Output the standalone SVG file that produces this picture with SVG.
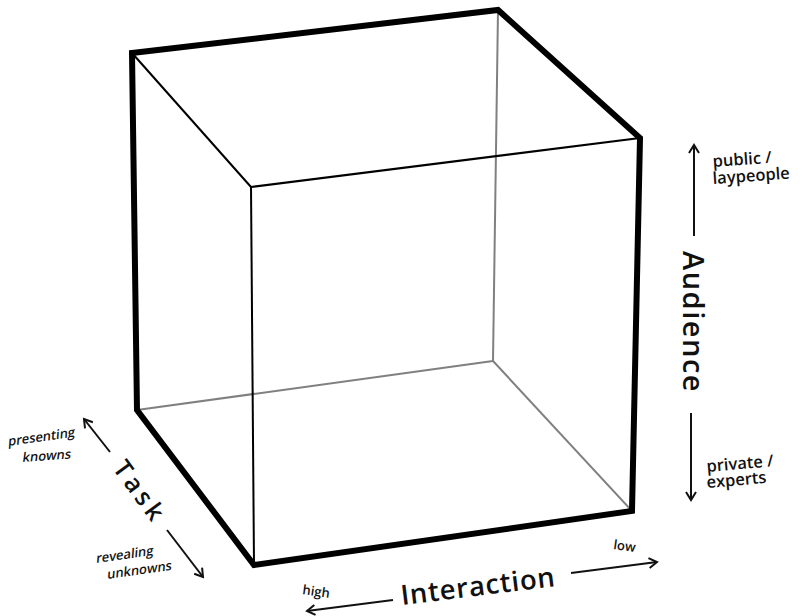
<svg xmlns="http://www.w3.org/2000/svg" width="807" height="616" viewBox="0 0 807 616">
<defs>
<marker id="ah" viewBox="0 0 12 12" refX="10" refY="6" markerWidth="12" markerHeight="12" markerUnits="userSpaceOnUse" orient="auto">
<polyline points="2,1 10,6 2,11" fill="none" stroke="#111" stroke-width="2" stroke-linejoin="miter"/>
</marker>
<style>
.thick{fill:none;stroke:#000;stroke-width:6;stroke-linejoin:miter}
.thin{fill:none;stroke:#000;stroke-width:2}
.gray{fill:none;stroke:#808080;stroke-width:2}
.arr{fill:none;stroke:#111;stroke-width:2;marker-end:url(#ah)}
.lbl{font-family:"Open Sans","Noto Sans","Liberation Sans",sans-serif;font-weight:600;fill:#111}
.big{font-family:"Open Sans","Noto Sans","Liberation Sans",sans-serif;font-weight:600;fill:#111}
</style>
</defs>
<rect width="807" height="616" fill="#fff"/>
<g id="cube">
<line class="gray" x1="498" y1="10" x2="493" y2="361"/>
<line class="gray" x1="493" y1="361" x2="137" y2="410"/>
<line class="gray" x1="493" y1="361" x2="632" y2="511"/>
<line class="thin" x1="132" y1="53" x2="251" y2="187"/>
<line class="thin" x1="251" y1="187" x2="640" y2="138"/>
<line class="thin" x1="251" y1="187" x2="254" y2="565"/>
<polygon class="thick" points="132,53 498,10 640,138 632,511 254,565 137,410"/>
</g>
<g id="connectors">
<line class="arr" x1="694" y1="236" x2="694" y2="145"/>
<line class="arr" x1="691" y1="413" x2="691" y2="500"/>
<line class="arr" x1="110" y1="452" x2="84" y2="419"/>
<line class="arr" x1="167" y1="530" x2="203" y2="577"/>
<line class="arr" x1="393" y1="600" x2="307" y2="611"/>
<line class="arr" x1="571" y1="573" x2="657" y2="562"/>
</g>
<g id="audience">
<text class="big" font-size="29" text-anchor="middle" letter-spacing="1.5" transform="translate(683,322) rotate(90)">Audience</text>
<text class="lbl" font-size="16.5" transform="translate(713,167) rotate(-4)">public /</text>
<text class="lbl" font-size="16.5" transform="translate(713,184) rotate(-4)">laypeople</text>
<text class="lbl" font-size="16.5" transform="translate(707,472) rotate(-5)">private /</text>
<text class="lbl" font-size="16.5" transform="translate(707,488) rotate(-5)">experts</text>
</g>
<g id="task">
<text class="big" font-size="25" text-anchor="middle" letter-spacing="4" transform="translate(133,497) rotate(54)">Task</text>
<text class="lbl" font-size="13" transform="translate(8,446) rotate(-8) skewX(-12)">presenting</text>
<text class="lbl" font-size="13" transform="translate(22,462) rotate(-4) skewX(-12)">knowns</text>
<text class="lbl" font-size="13" transform="translate(96,563) rotate(-8) skewX(-12)">revealing</text>
<text class="lbl" font-size="13" transform="translate(107,579) rotate(-8) skewX(-12)">unknowns</text>
</g>
<g id="interaction">
<text class="big" font-size="27.5" letter-spacing="0.8" transform="translate(402,605) rotate(-7)">Interaction</text>
<text class="lbl" font-size="13" transform="translate(302,594) rotate(8)">high</text>
<text class="lbl" font-size="13" transform="translate(613,549) rotate(8)">low</text>
</g>
</svg>
